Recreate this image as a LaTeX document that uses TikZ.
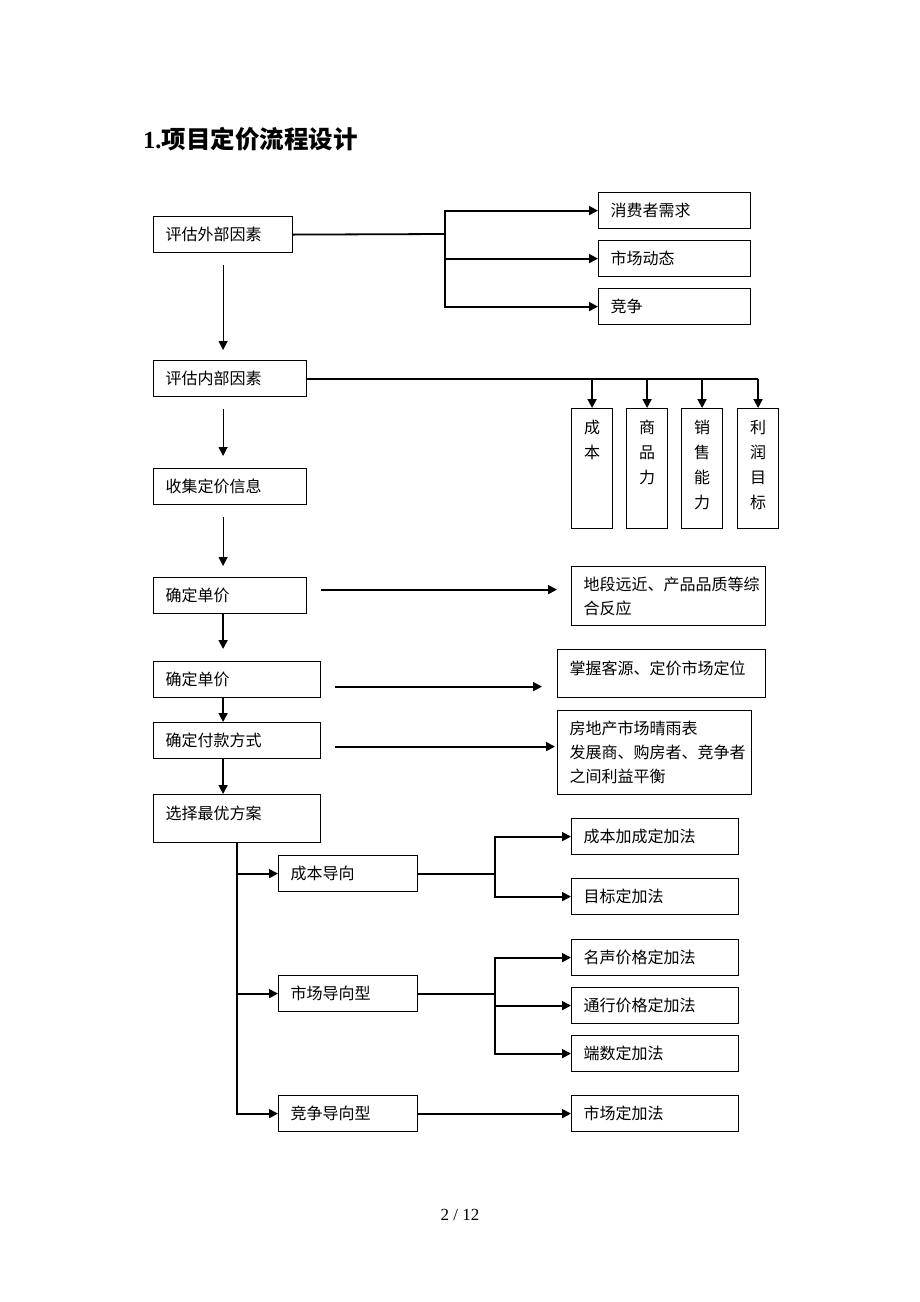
\documentclass[tikz,border=0pt]{standalone}
\usepackage{fontspec}
\setmainfont{Liberation Serif}
\newfontfamily\cjk{Noto Sans CJK SC}
\usetikzlibrary{arrows.meta,calc}

\tikzset{
  box/.style={draw, line width=1.2pt, anchor=north west, inner xsep=12pt, inner ysep=0pt,
    align=left, font=\cjk\fontsize{16}{24}\selectfont},
  tallbox/.style={draw, line width=1.2pt, anchor=north west, minimum width=41pt, text width=16pt,
    inner xsep=0pt, inner ysep=0pt, align=center, text height=25pt, text depth=95pt,
    font=\cjk\fontsize{16}{25}\selectfont},
  link/.style={line width=1.8pt},
  arr/.style={link, -{Triangle[length=9pt,width=9pt]}},
}

\begin{document}
\begin{tikzpicture}[x=1pt, y=-1pt]
    \useasboundingbox (0,0) rectangle (920,1302);

    % Title
    \node[anchor=west, inner sep=0pt, font=\fontsize{24.5}{28}\selectfont\bfseries] (title) at (143,139) {1.{\cjk 项目定价流程设计}};

    % External factors
    \node[box, text width=115pt, minimum height=36pt] (ext) at (153,216) {评估外部因素};
    \node[box, text width=128pt, minimum height=36pt] (c1) at (598,192) {消费者需求};
    \node[box, text width=128pt, minimum height=36pt] (c2) at (598,240) {市场动态};
    \node[box, text width=128pt, minimum height=36pt] (c3) at (598,288) {竞争};

    % Internal factors
    \node[box, text width=129pt, minimum height=36pt] (int) at (153,360) {评估内部因素};
    \node[tallbox] (v1) at (571,408) {成\\本};
    \node[tallbox] (v2) at (626,408) {商\\品\\力};
    \node[tallbox] (v3) at (681,408) {销\\售\\能\\力};
    \node[tallbox] (v4) at (737,408) {利\\润\\目\\标};

    % Main steps
    \node[box, text width=129pt, minimum height=36pt] (info) at (153,468) {收集定价信息};
    \node[box, text width=129pt, minimum height=36pt] (p1) at (153,577) {确定单价};
    \node[box, text width=170pt, minimum height=59pt] (r1) at (571,566) {地段远近、产品品质等综\\合反应};

    \node[box, text width=143pt, minimum height=36pt] (p2) at (153,661) {确定单价};
    \node[box, text width=184pt, minimum height=48pt, text depth=12pt] (r2) at (557,649) {掌握客源、定价市场定位};

    \node[box, text width=143pt, minimum height=36pt] (pay) at (153,722) {确定付款方式};
    \node[box, text width=170pt, minimum height=84pt] (r3) at (557,710) {房地产市场晴雨表\\发展商、购房者、竞争者\\之间利益平衡};

    \node[box, text width=143pt, minimum height=48pt, text depth=12pt] (best) at (153,794) {选择最优方案};

    % Orientations
    \node[box, text width=115pt, minimum height=36pt] (m1) at (278,855) {成本导向};
    \node[box, text width=115pt, minimum height=36pt] (m2) at (278,975) {市场导向型};
    \node[box, text width=115pt, minimum height=36pt] (m3) at (278,1095) {竞争导向型};

    % Methods
    \node[box, text width=143pt, minimum height=36pt] (k1) at (571,818) {成本加成定加法};
    \node[box, text width=143pt, minimum height=36pt] (k2) at (571,878) {目标定加法};
    \node[box, text width=143pt, minimum height=36pt] (k3) at (571,939) {名声价格定加法};
    \node[box, text width=143pt, minimum height=36pt] (k4) at (571,987) {通行价格定加法};
    \node[box, text width=143pt, minimum height=36pt] (k5) at (571,1035) {端数定加法};
    \node[box, text width=143pt, minimum height=36pt] (k6) at (571,1095) {市场定加法};

    % Page number
    \node[font=\fontsize{17}{20}\selectfont] (page) at (460,1215) {2 / 12};

    % Connections
    \coordinate (jx) at (445,234);
    \draw[link] (ext.east) -- (jx);
    \draw[arr] (jx) |- (c1.west);
    \draw[arr] (jx) |- (c2.west);
    \draw[arr] (jx) |- (c3.west);

    \draw[link] (int.east) -- (int.east -| v4.north);
    \foreach \v in {v1,v2,v3,v4}
        \draw[arr] (int.east -| \v.north) -- (\v.north);

    \draw[arr, line width=1.2pt] ([yshift=-12pt]ext.south) -- ([yshift=10pt]int.north -| ext.south);
    \draw[arr, line width=1.2pt] ([yshift=-12pt]int.south -| ext.south) -- ([yshift=12pt]info.north -| ext.south);
    \draw[arr, line width=1.2pt] ([yshift=-12pt]info.south -| ext.south) -- ([yshift=11pt]p1.north -| ext.south);
    \draw[arr] (p1.south -| ext.south) -- ([yshift=12pt]p2.north -| ext.south);
    \draw[arr] (p2.south -| ext.south) -- (pay.north -| ext.south);
    \draw[arr] (pay.south -| ext.south) -- (best.north -| ext.south);

    \draw[arr] ($(p1.east)+(14,-6)$) -- ($(p1.east -| r1.west)+(-14,-6)$);
    \draw[arr] ($(p2.east)+(14,7)$) -- ($(p2.east -| r2.west)+(-15,7)$);
    \draw[arr] ($(pay.east)+(14,6)$) -- ($(pay.east -| r3.west)+(-2,6)$);

    \draw[arr] (best.south) |- (m1.west);
    \draw[arr] (best.south) |- (m2.west);
    \draw[arr] (best.south) |- (m3.west);

    \coordinate (jm1) at ($(m1.east)+(77,0)$);
    \draw[link] (m1.east) -- (jm1);
    \draw[arr] (jm1) |- (k1.west);
    \draw[arr] (jm1) |- (k2.west);

    \coordinate (jm2) at ($(m2.east)+(77,0)$);
    \draw[link] (m2.east) -- (jm2);
    \draw[arr] (jm2) |- (k3.west);
    \draw[arr] (jm2) |- (k4.west);
    \draw[arr] (jm2) |- (k5.west);

    \draw[arr] (m3.east) -- (k6.west);

\end{tikzpicture}
\end{document}
